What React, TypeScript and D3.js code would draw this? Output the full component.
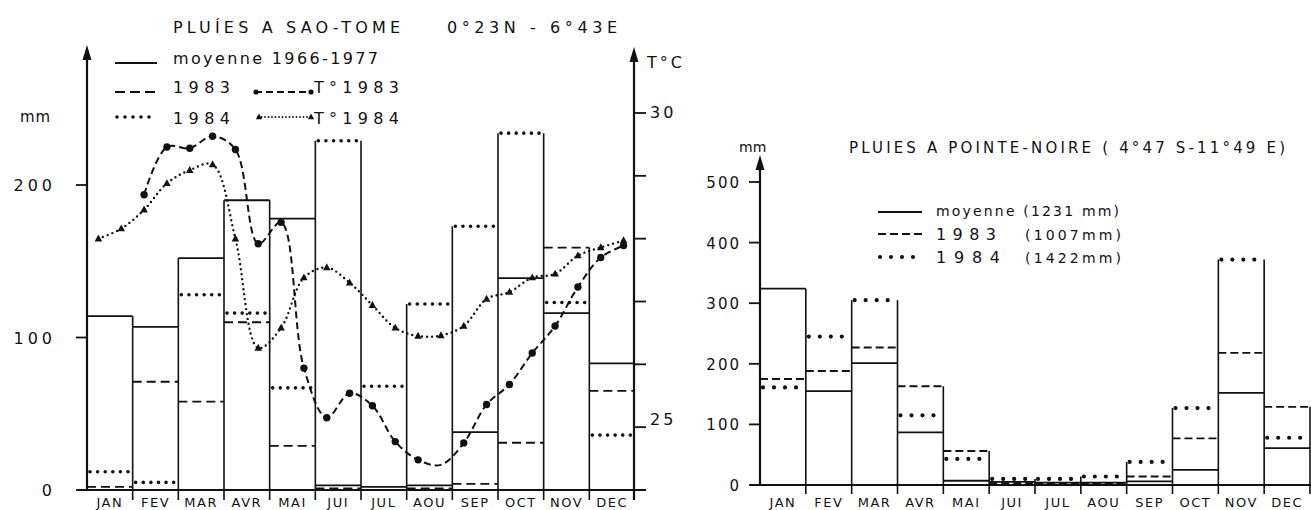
import React from "react";
import * as d3 from "d3";

const months = ["JAN", "FEV", "MAR", "AVR", "MAI", "JUI", "JUL", "AOU", "SEP", "OCT", "NOV", "DEC"];

// Sao-Tome rainfall (mm)
const stMean = [114, 107, 152, 190, 178, 3, 2, 3, 38, 139, 116, 83];
const st1983 = [2, 71, 58, 110, 29, 1, 0, 1, 4, 31, 159, 65];
const st1984 = [12, 5, 128, 116, 67, 229, 68, 122, 173, 234, 123, 36];
// Sao-Tome temperature (°C), half-month values (24 per year)
const stT1983: (number | null)[] = [null, null, 28.7, 29.46, 29.44, 29.63, 29.42, 27.92, 28.26, 25.94, 25.15, 25.54, 25.34, 24.77, 24.48, 24.4, 24.75, 25.36, 25.68, 26.18, 26.61, 27.23, 27.7, 27.89];
const stT1984 = [28.0, 28.16, 28.46, 28.88, 29.09, 29.18, 28.0, 26.26, 26.58, 27.38, 27.54, 27.3, 26.94, 26.58, 26.45, 26.46, 26.61, 27.04, 27.15, 27.38, 27.44, 27.73, 27.86, 27.97];
const stMmTicks = [0, 100, 200];
const stTTicks = [24, 25, 26, 27, 28, 29, 30];
const stTLabels = [25, 30];

// Pointe-Noire rainfall (mm)
const pnMean = [324, 155, 201, 87, 7, 5, 4, 4, 6, 25, 152, 61];
const pn1983 = [175, 188, 227, 163, 56, 3, 2, 3, 14, 77, 218, 129];
const pn1984 = [161, 245, 305, 115, 43, 10, 10, 14, 38, 127, 372, 78];
const pnTicks = [0, 100, 200, 300, 400, 500];

const FONT = "'DejaVu Sans', 'Liberation Sans', sans-serif";
const INK = "#111";

type Style = { dash?: string; width: number; cap?: "round" | "butt" };

function Arrow({ x, y }: { x: number; y: number }) {
  return <polygon points={`${x},${y} ${x - 4.5},${y + 15} ${x + 4.5},${y + 15}`} fill={INK} />;
}

function Steps({
  x,
  y,
  base,
  drop,
  series,
  styles,
  skipLast,
}: {
  x: d3.ScaleLinear<number, number>;
  y: d3.ScaleLinear<number, number>;
  base: number;
  drop: number;
  series: number[][];
  styles: Style[];
  skipLast?: boolean;
}) {
  const n = series[0].length;
  const bounds: React.ReactNode[] = [];
  for (let i = 1; i <= n; i++) {
    const vals: number[] = [];
    series.forEach((s) => {
      vals.push(s[i - 1]);
      if (i < n) vals.push(s[i]);
    });
    const top = d3.max(vals) as number;
    if (i === n && skipLast) continue;
    bounds.push(
      <line key={"b" + i} x1={x(i)} x2={x(i)} y1={base + drop} y2={y(top)} stroke={INK} strokeWidth={1.6} />
    );
  }
  return (
    <g>
      {bounds}
      {series.map((s, si) =>
        s.map((v, i) => (
          <line
            key={si + "-" + i}
            x1={x(i) + (styles[si].cap === "round" ? 3 : 0)}
            x2={x(i + 1) - (styles[si].cap === "round" ? 2 : 0)}
            y1={y(v)}
            y2={y(v)}
            stroke={INK}
            strokeWidth={styles[si].width}
            strokeDasharray={styles[si].dash}
            strokeLinecap={styles[si].cap || "butt"}
          />
        ))
      )}
    </g>
  );
}

function Tri({ cx, cy, s }: { cx: number; cy: number; s: number }) {
  return <polygon points={`${cx},${cy - s} ${cx - s * 0.9},${cy + s * 0.65} ${cx + s * 0.9},${cy + s * 0.65}`} fill={INK} />;
}

export default function App() {
  // Left chart (Sao-Tome)
  const baseL = 490;
  const xL = d3.scaleLinear().domain([0, 12]).range([87, 635]);
  const yL = d3.scaleLinear().domain([0, 200]).range([baseL, 185]);
  const yT = d3.scaleLinear().domain([24, 30]).range([baseL, 113]);
  const xHalf = (k: number) => xL((k + 0.5) / 2);

  const line = d3
    .line<[number, number]>()
    .x((d) => d[0])
    .y((d) => d[1])
    .curve(d3.curveCatmullRom.alpha(0.5));

  const t83 = stT1983
    .map((v, k) => (v == null ? null : ([xHalf(k), yT(v)] as [number, number])))
    .filter((d) => d != null) as [number, number][];
  const t84 = stT1984.map((v, k) => [xHalf(k), yT(v)] as [number, number]);

  // Right chart (Pointe-Noire)
  const baseR = 485;
  const xR = d3.scaleLinear().domain([0, 12]).range([760, 1310]);
  const yR = d3.scaleLinear().domain([0, 500]).range([baseR, 182]);

  const stStyles: Style[] = [
    { width: 1.8 },
    { width: 1.8, dash: "9 5" },
    { width: 3.6, dash: "0 7.6", cap: "round" },
  ];
  const pnStyles: Style[] = [
    { width: 1.8 },
    { width: 1.9, dash: "8 4" },
    { width: 4.2, dash: "0 11", cap: "round" },
  ];

  return (
    <svg
      width={1311}
      height={510}
      viewBox="0 0 1311 510"
      style={{ position: "absolute", left: 0, top: 0, background: "#fff" }}
      fontFamily={FONT}
      fill={INK}
    >
      <rect x={0} y={0} width={1311} height={510} fill="#fff" />

      {/* ===== LEFT CHART ===== */}
      <text x={173} y={33} fontSize={16} textLength={227} lengthAdjust="spacing">
        PLUÍES A SAO-TOME
      </text>
      <text x={447} y={33} fontSize={16} textLength={170} lengthAdjust="spacing">
        0°23N - 6°43E
      </text>

      {/* legend */}
      <line x1={115} x2={157} y1={63} y2={63} stroke={INK} strokeWidth={1.8} />
      <text x={173} y={64} fontSize={16} textLength={205} lengthAdjust="spacing">
        moyenne  1966-1977
      </text>
      <line x1={115} x2={157} y1={92} y2={92} stroke={INK} strokeWidth={1.8} strokeDasharray="10 5" />
      <text x={173} y={93} fontSize={16} textLength={57} lengthAdjust="spacing">
        1983
      </text>
      <line x1={255} x2={312} y1={92} y2={92} stroke={INK} strokeWidth={1.8} strokeDasharray="7 4" />
      <circle cx={256} cy={92} r={2.6} />
      <circle cx={311} cy={92} r={2.6} />
      <text x={314} y={93} fontSize={16} textLength={85} lengthAdjust="spacing">
        T°1983
      </text>
      <line x1={117} x2={157} y1={117} y2={117} stroke={INK} strokeWidth={3.6} strokeDasharray="0 8" strokeLinecap="round" />
      <text x={173} y={124} fontSize={16} textLength={57} lengthAdjust="spacing">
        1984
      </text>
      <line x1={258} x2={312} y1={117} y2={117} stroke={INK} strokeWidth={1.8} strokeDasharray="0 3.5" strokeLinecap="round" />
      <Tri cx={259} cy={117} s={3.5} />
      <Tri cx={311} cy={117} s={3.5} />
      <text x={314} y={124} fontSize={16} textLength={85} lengthAdjust="spacing">
        T°1984
      </text>

      {/* axes */}
      <text x={20} y={122} fontSize={15} letterSpacing={1}>
        mm
      </text>
      <line x1={87} x2={87} y1={52} y2={baseL} stroke={INK} strokeWidth={2.2} />
      <Arrow x={87} y={45} />
      <line x1={78} x2={646} y1={baseL} y2={baseL} stroke={INK} strokeWidth={2.2} />
      {stMmTicks.map((t) => (
        <g key={"lt" + t}>
          <line x1={76} x2={87} y1={yL(t)} y2={yL(t)} stroke={INK} strokeWidth={1.8} />
          <text x={56} y={yL(t) + 6} fontSize={16} textAnchor="end" letterSpacing={4}>
            {t}
          </text>
        </g>
      ))}

      <line x1={634} x2={634} y1={54} y2={baseL + 10} stroke={INK} strokeWidth={2.2} />
      <Arrow x={634} y={47} />
      <text x={647} y={68} fontSize={16} letterSpacing={3}>
        T°C
      </text>
      {stTTicks.map((t) => (
        <line key={"rt" + t} x1={634} x2={646} y1={yT(t)} y2={yT(t)} stroke={INK} strokeWidth={1.8} />
      ))}
      {stTLabels.map((t) => (
        <text key={"rl" + t} x={650} y={yT(t) + (t === 30 ? 5 : -2)} fontSize={16} letterSpacing={3}>
          {t}
        </text>
      ))}

      <Steps x={xL} y={yL} base={baseL} drop={10} series={[stMean, st1983, st1984]} styles={stStyles} skipLast />

      {/* temperature curves */}
      <path d={line(t83) || ""} fill="none" stroke={INK} strokeWidth={2} strokeDasharray="7 4" />
      {stT1983.map((v, k) =>
        v == null || k === 15 ? null : <circle key={"c" + k} cx={xHalf(k)} cy={yT(v)} r={3.7} />
      )}
      <path d={line(t84) || ""} fill="none" stroke={INK} strokeWidth={2.4} strokeDasharray="0 5" strokeLinecap="round" />
      {stT1984.map((v, k) => (
        <Tri key={"t" + k} cx={xHalf(k)} cy={yT(v)} s={4.2} />
      ))}

      {months.map((m, i) => (
        <text key={"ml" + m} x={xL(i + 0.5)} y={507} fontSize={13} textAnchor="middle" letterSpacing={1.5}>
          {m}
        </text>
      ))}

      {/* ===== RIGHT CHART ===== */}
      <text x={849} y={153} fontSize={15} textLength={436} lengthAdjust="spacing">
        PLUIES  A  POINTE-NOIRE ( 4°47 S-11°49 E)
      </text>
      <text x={739} y={152} fontSize={14}>
        mm
      </text>
      <line x1={878} x2={922} y1={212} y2={212} stroke={INK} strokeWidth={1.8} />
      <text x={936} y={216} fontSize={14} textLength={183} lengthAdjust="spacing">
        moyenne  (1231 mm)
      </text>
      <line x1={878} x2={922} y1={234} y2={234} stroke={INK} strokeWidth={1.9} strokeDasharray="8 4" />
      <text x={936} y={240} fontSize={16} textLength={60} lengthAdjust="spacing">
        1983
      </text>
      <text x={1025} y={240} fontSize={14} textLength={96} lengthAdjust="spacing">
        (1007mm)
      </text>
      <line x1={880} x2={922} y1={257} y2={257} stroke={INK} strokeWidth={4.2} strokeDasharray="0 11" strokeLinecap="round" />
      <text x={936} y={263} fontSize={16} textLength={64} lengthAdjust="spacing">
        1984
      </text>
      <text x={1025} y={263} fontSize={14} textLength={96} lengthAdjust="spacing">
        (1422mm)
      </text>

      <line x1={760} x2={760} y1={170} y2={baseR} stroke={INK} strokeWidth={2.2} />
      <Arrow x={760} y={155} />
      <line x1={750} x2={1311} y1={baseR} y2={baseR} stroke={INK} strokeWidth={2.2} />
      {pnTicks.map((t) => (
        <g key={"pt" + t}>
          <line x1={749} x2={760} y1={yR(t)} y2={yR(t)} stroke={INK} strokeWidth={1.8} />
          <text x={741} y={yR(t) + 6} fontSize={15} textAnchor="end" letterSpacing={2}>
            {t}
          </text>
        </g>
      ))}

      <Steps x={xR} y={yR} base={baseR} drop={9} series={[pnMean, pn1983, pn1984]} styles={pnStyles} />

      {months.map((m, i) => (
        <text key={"mr" + m} x={xR(i + 0.5)} y={507} fontSize={13} textAnchor="middle" letterSpacing={1.5}>
          {m}
        </text>
      ))}
    </svg>
  );
}
